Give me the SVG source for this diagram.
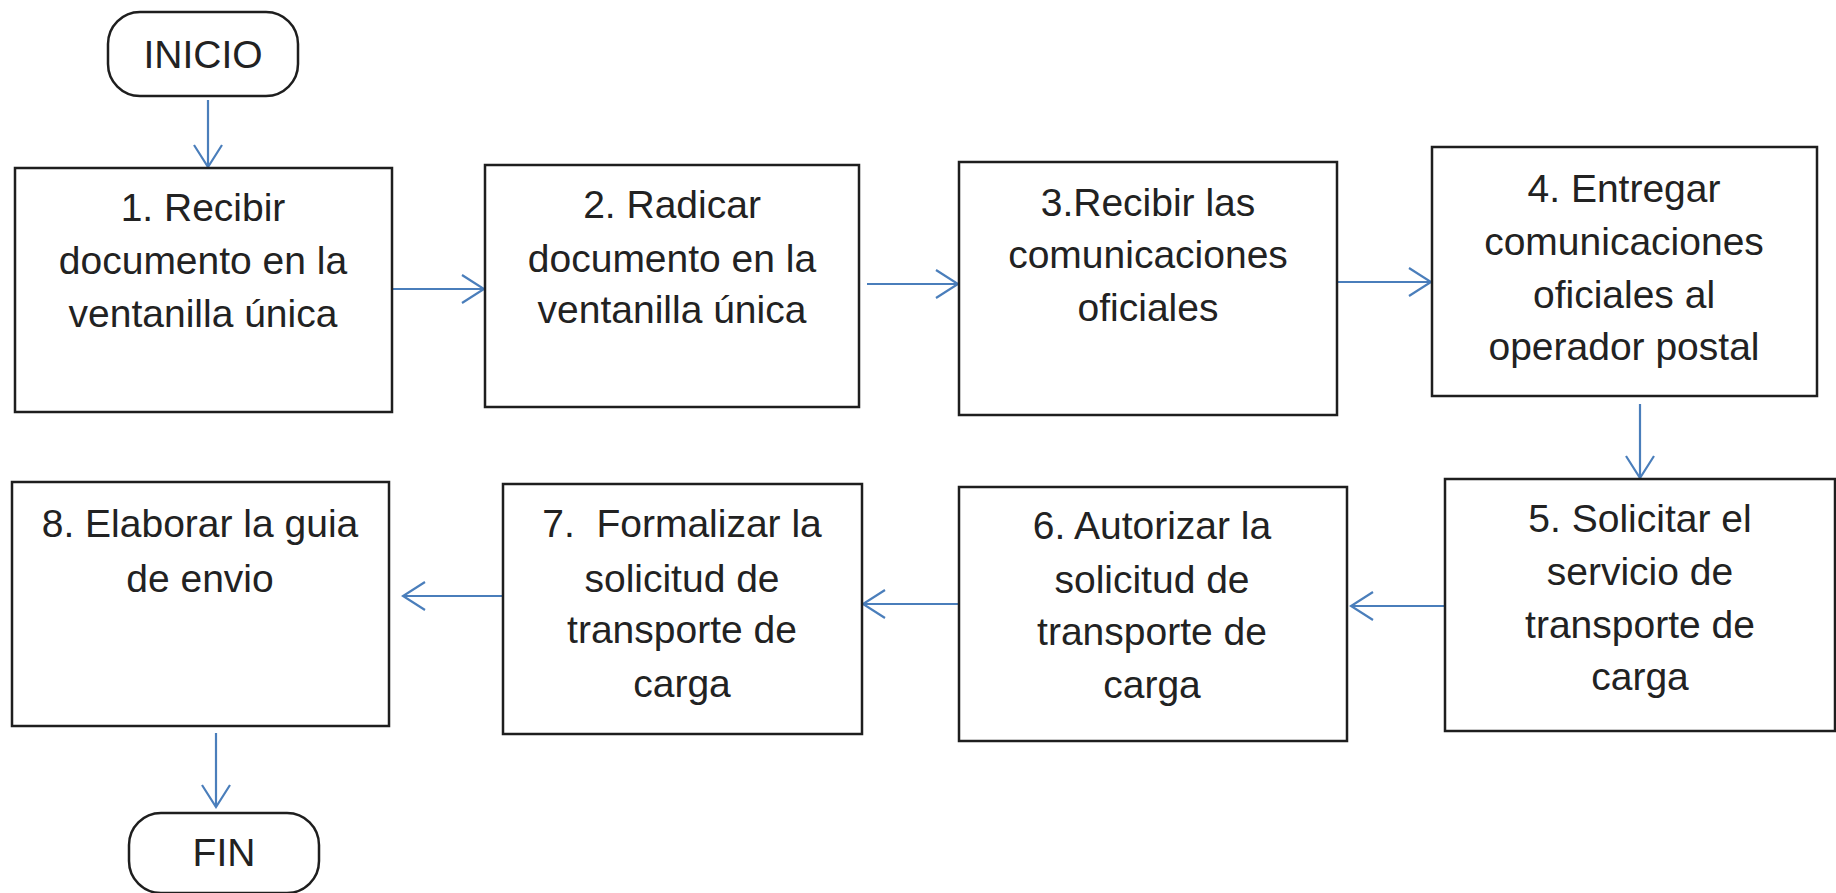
<svg xmlns="http://www.w3.org/2000/svg" width="1836" height="893" viewBox="0 0 1836 893">
<style>
  .box { fill: #ffffff; stroke: #1e1e1e; stroke-width: 2.5; }
  .t { font-family: "Liberation Sans", Arial, sans-serif; font-size: 39px; fill: #222222; text-anchor: middle; }
  .conn { stroke: #4a7ebb; stroke-width: 2.2; fill: none; marker-end: url(#arrow); }
</style>
<defs>
  <marker id="arrow" viewBox="-24 -16 26 32" markerWidth="26" markerHeight="32" refX="0" refY="0" orient="auto" markerUnits="userSpaceOnUse">
    <path d="M -22 -14 L 0 0 L -22 14" fill="none" stroke="#4a7ebb" stroke-width="2.2"/>
  </marker>
</defs>
<rect width="1836" height="893" fill="#ffffff"/>

<g id="connectors">
  <line class="conn" x1="208" y1="100" x2="208" y2="167"/>
  <line class="conn" x1="393" y1="289" x2="484" y2="289"/>
  <line class="conn" x1="867" y1="284" x2="958" y2="284"/>
  <line class="conn" x1="1338" y1="282" x2="1431" y2="282"/>
  <line class="conn" x1="1640" y1="404" x2="1640" y2="478"/>
  <line class="conn" x1="1445" y1="606" x2="1351" y2="606"/>
  <line class="conn" x1="959" y1="604" x2="863" y2="604"/>
  <line class="conn" x1="503" y1="596" x2="403" y2="596"/>
  <line class="conn" x1="216" y1="733" x2="216" y2="807"/>
</g>

<g id="inicio">
  <rect class="box" x="108" y="12" width="190" height="84" rx="32" ry="32"/>
  <text class="t" x="203" y="68">INICIO</text>
</g>

<g id="step1">
  <rect class="box" x="15" y="168" width="377" height="244"/>
  <text class="t" x="203" y="221">1. Recibir</text>
  <text class="t" x="203" y="274">documento en la</text>
  <text class="t" x="203" y="327">ventanilla única</text>
</g>

<g id="step2">
  <rect class="box" x="485" y="165" width="374" height="242"/>
  <text class="t" x="672" y="218">2. Radicar</text>
  <text class="t" x="672" y="272">documento en la</text>
  <text class="t" x="672" y="323">ventanilla única</text>
</g>

<g id="step3">
  <rect class="box" x="959" y="162" width="378" height="253"/>
  <text class="t" x="1148" y="216">3.Recibir las</text>
  <text class="t" x="1148" y="268">comunicaciones</text>
  <text class="t" x="1148" y="321">oficiales</text>
</g>

<g id="step4">
  <rect class="box" x="1432" y="147" width="385" height="249"/>
  <text class="t" x="1624" y="202">4. Entregar</text>
  <text class="t" x="1624" y="255">comunicaciones</text>
  <text class="t" x="1624" y="308">oficiales al</text>
  <text class="t" x="1624" y="360">operador postal</text>
</g>

<g id="step5">
  <rect class="box" x="1445" y="479" width="390" height="252"/>
  <text class="t" x="1640" y="532">5. Solicitar el</text>
  <text class="t" x="1640" y="585">servicio de</text>
  <text class="t" x="1640" y="638">transporte de</text>
  <text class="t" x="1640" y="690">carga</text>
</g>

<g id="step6">
  <rect class="box" x="959" y="487" width="388" height="254"/>
  <text class="t" x="1152" y="539">6. Autorizar la</text>
  <text class="t" x="1152" y="593">solicitud de</text>
  <text class="t" x="1152" y="645">transporte de</text>
  <text class="t" x="1152" y="698">carga</text>
</g>

<g id="step7">
  <rect class="box" x="503" y="484" width="359" height="250"/>
  <text class="t" x="682" y="537" xml:space="preserve">7.  Formalizar la</text>
  <text class="t" x="682" y="592">solicitud de</text>
  <text class="t" x="682" y="643">transporte de</text>
  <text class="t" x="682" y="697">carga</text>
</g>

<g id="step8">
  <rect class="box" x="12" y="482" width="377" height="244"/>
  <text class="t" x="200" y="537">8. Elaborar la guia</text>
  <text class="t" x="200" y="592">de envio</text>
</g>

<g id="fin">
  <rect class="box" x="129" y="813" width="190" height="80" rx="32" ry="32"/>
  <text class="t" x="224" y="866">FIN</text>
</g>
</svg>
